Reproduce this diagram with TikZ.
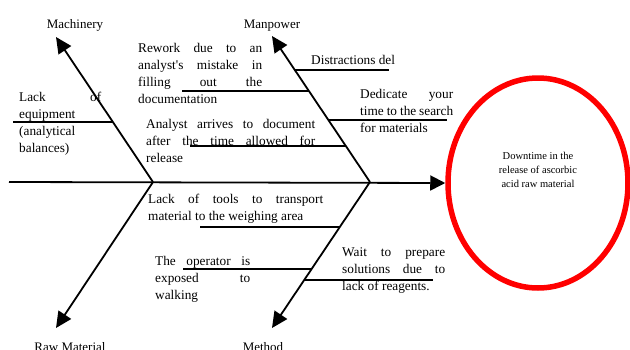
\documentclass[tikz,border=0pt]{standalone}
\usepackage{fontspec}
\setmainfont{Liberation Serif}
\usetikzlibrary{arrows.meta,shapes.geometric}
\newcommand{\jl}[2]{\makebox[#1][s]{#2}}
\tikzset{
  bone/.style={line width=1.8pt, -{Triangle[length=16pt,width=15pt]}},
  branch/.style={line width=1.6pt},
  cause/.style={anchor=base west, inner sep=0pt, font=\fontsize{13.3}{17.3}\selectfont},
  cat/.style={anchor=base, inner sep=0pt, font=\fontsize{13}{15}\selectfont},
}
\begin{document}
\begin{tikzpicture}[x=1pt,y=-1pt]
\useasboundingbox (0,0) rectangle (630,349);
% effect
\node[draw=red, line width=5.5pt, ellipse, minimum width=180pt, minimum height=210pt, inner sep=0pt] (effect) at (538,183) {};
\node[align=center, inner sep=0pt, font=\fontsize{10.5}{14}\selectfont] (efftext) at (538,170)
  {Downtime in the\\release of ascorbic\\acid raw material};
% spine
\coordinate (tail) at (9,182);
\coordinate (j1) at (153,182);
\coordinate (j2) at (370,182);
\draw[line width=1.8pt, -{Triangle[length=15pt,width=15pt]}] (tail) -- (effect.west);
% bones
\coordinate (mach) at (56,37);
\coordinate (raw) at (56,328);
\coordinate (man) at (272,36);
\coordinate (meth) at (272,328);
\draw[bone] (j1) -- (mach);
\draw[bone] (j1) -- (raw);
\draw[bone] (j2) -- (man);
\draw[bone] (j2) -- (meth);
% category labels
\node[cat] (lmach) at (75,28) {Machinery};
\node[cat] (lman) at (272,28) {Manpower};
\node[cat] (lraw) at (70,351) {Raw Material};
\node[cat] (lmeth) at (263,351) {Method};
% branch lines
\coordinate (b1a) at (13,122);  \coordinate (b1b) at (113,122);
\coordinate (b2a) at (182,91);  \coordinate (b2b) at (309,91);
\coordinate (b3a) at (190,146); \coordinate (b3b) at (346,146);
\coordinate (b4a) at (295,70);  \coordinate (b4b) at (389,70);
\coordinate (b5a) at (328,120); \coordinate (b5b) at (447,120);
\coordinate (b6a) at (200,227); \coordinate (b6b) at (340,227);
\coordinate (b7a) at (183,269); \coordinate (b7b) at (312,269);
\coordinate (b8a) at (305,280); \coordinate (b8b) at (433,280);
\foreach \i in {1,...,8} {\draw[branch] (b\i a) -- (b\i b);}
% causes
\node[cause] (c1) at (19,101) {\parbox[t]{82pt}{\jl{82pt}{Lack of}\\equipment\\(analytical\\balances)}};
\node[cause] (c2) at (138,52) {\parbox[t]{124pt}{\jl{124pt}{Rework due to an}\\\jl{124pt}{analyst\textquotesingle s mistake in}\\\jl{124pt}{filling out the}\\documentation}};
\node[cause] (c3) at (146,128) {\parbox[t]{169pt}{\jl{169pt}{Analyst arrives to document}\\\jl{169pt}{after the time allowed for}\\release}};
\node[cause] (c4) at (311,64) {Distractions del};
\node[cause] (c5) at (360,98) {\parbox[t]{93pt}{\jl{93pt}{Dedicate your}\\\jl{93pt}{time to the search}\\for materials}};
\node[cause] (c6) at (148,203) {\parbox[t]{175pt}{\jl{175pt}{Lack of tools to transport}\\material to the weighing area}};
\node[cause] (c7) at (155,265) {\parbox[t]{95pt}{\jl{95pt}{The operator is}\\\jl{95pt}{exposed to}\\walking}};
\node[cause] (c8) at (342,256) {\parbox[t]{103pt}{\jl{103pt}{Wait to prepare}\\\jl{103pt}{solutions due to}\\lack of reagents.}};
\end{tikzpicture}
\end{document}
